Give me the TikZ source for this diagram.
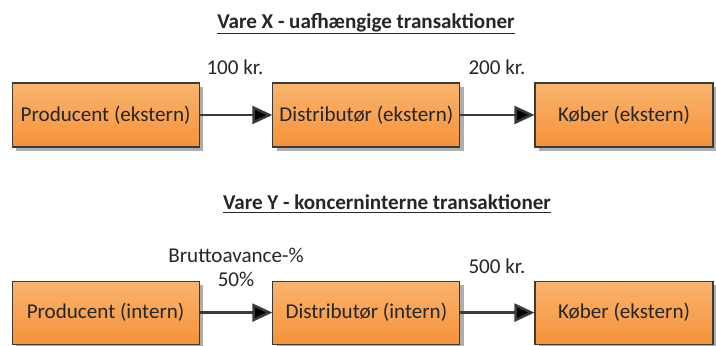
\documentclass[tikz,border=0pt]{standalone}
\usepackage{fontspec}
\setmainfont{Carlito}
\usetikzlibrary{arrows.meta,shadows}

\definecolor{boxtop}{HTML}{F9B46F}
\definecolor{boxbot}{HTML}{F6923A}
\definecolor{edgegray}{HTML}{3A3A3A}

\begin{document}
\begin{tikzpicture}
    \tikzstyle{every node}+=[font=\fontsize{15}{17.5}\selectfont, text=black!85]
    \tikzstyle{box}=[draw=edgegray, line width=0.8pt, top color=boxtop, bottom color=boxbot,
                     minimum height=1.6cm, inner sep=0pt,
                     drop shadow={shadow xshift=0.09cm, shadow yshift=-0.09cm, fill=black!45, opacity=0.7}]
    \useasboundingbox (0, 0) rectangle (17.9, 8.625);

    % Vare X
    \node (titlex) at (9.15, 8.03) {\underline{\textbf{Vare X - uafhængige transaktioner}}};
    \node[box, minimum width=4.675cm] (prodx) at (2.64, 5.75)  {Producent (ekstern)};
    \node[box, minimum width=4.675cm] (distx) at (9.16, 5.75)  {Distributør (ekstern)};
    \node[box, minimum width=4.45cm]  (kobx)  at (15.6, 5.75)  {Køber (ekstern)};
    \node (prisa) at (5.875, 6.95)  {100 kr.};
    \node (prisb) at (12.425, 6.95) {200 kr.};

    % Vare Y
    \node (titley) at (9.675, 3.53) {\underline{\textbf{Vare Y - koncerninterne transaktioner}}};
    \node[box, minimum width=4.675cm, minimum height=1.575cm] (prody) at (2.64, 0.81) {Producent (intern)};
    \node[box, minimum width=4.675cm, minimum height=1.575cm] (disty) at (9.16, 0.81) {Distributør (intern)};
    \node[box, minimum width=4.45cm, minimum height=1.575cm]  (koby)  at (15.6, 0.81) {Køber (ekstern)};
    \node[align=center] (avance) at (5.9, 1.94) {Bruttoavance-\%\\50\%};
    \node (prisc) at (12.425, 1.98) {500 kr.};

    \path[-{Triangle[length=0.5cm, width=0.45cm]}, draw=edgegray, line width=1.8pt]
        (prodx) edge (distx)
        (distx) edge (kobx)
        (prody) edge (disty)
        (disty) edge (koby);
\end{tikzpicture}
\end{document}
